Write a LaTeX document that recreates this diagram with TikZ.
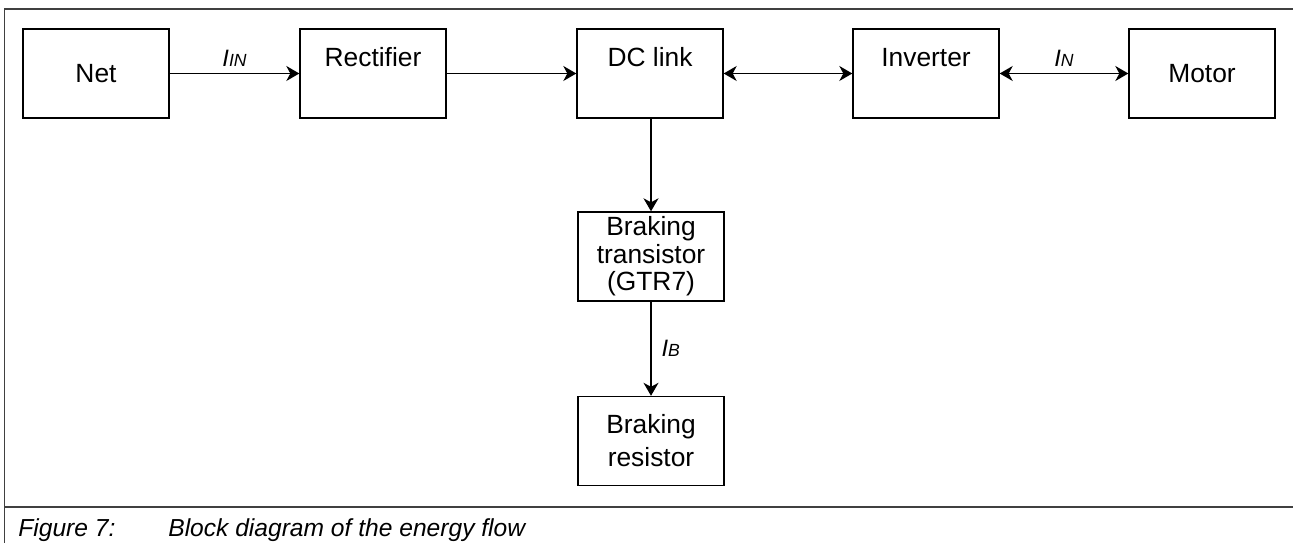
\documentclass[tikz,border=0pt]{standalone}
\usepackage{fontspec}
\setmainfont{Liberation Sans}
\usetikzlibrary{arrows.meta}

\begin{document}
\begin{tikzpicture}[x=0.02cm, y=-0.02cm,
    >={Stealth[length=0.26cm, width=0.3cm, inset=0.08cm]},
    block/.style={draw, line width=0.8pt, minimum width=2.92cm, minimum height=1.78cm,
      inner sep=0pt, align=center, font=\fontsize{15}{17}\selectfont},
    upper/.style={text height=0.39cm, text depth=0.67cm},
    flow/.style={->, line width=0.8pt},
    current/.style={font=\fontsize{13.5}{15}\selectfont\itshape}]
  % Frame and caption line
  \useasboundingbox (0,0) rectangle (1293,543);
  \draw[line width=1.1pt, black!75] (4.5,543) -- (4.5,9) -- (1293,9);
  \draw[line width=1.1pt, black!75] (4.5,507) -- (1293,507);

  % Blocks of the upper row
  \node[block] (net) at (96,73.5) {Net};
  \node[block, upper] (rect) at (373,73.5) {Rectifier};
  \node[block, upper] (dclink) at (650,73.5) {DC link};
  \node[block, upper] (inv) at (926,73.5) {Inverter};
  \node[block] (motor) at (1202,73.5) {Motor};

  % Braking branch
  \node[block, font=\fontsize{15}{15.6}\selectfont] (btr) at (651,256.5) {Braking\\transistor\\(GTR7)};
  \node[block, font=\fontsize{15}{18.8}\selectfont] (bres) at (651,441) {Braking\\resistor};

  % Energy flow
  \draw[flow] (net) -- node[current, above=0cm] {I{\fontsize{10}{10}\selectfont IN}} (rect);
  \draw[flow] (rect) -- (dclink);
  \draw[flow, <->] (dclink) -- (inv);
  \draw[flow, <->] (inv) -- node[current, above=0cm] {I{\fontsize{10}{10}\selectfont N}} (motor);
  \draw[flow] (btr.north |- dclink.south) -- (btr);
  \draw[flow] (btr) -- node[current, right=0.08cm] {I{\fontsize{10}{10}\selectfont B}} (bres);

  % Caption
  \node[anchor=base west, inner sep=0pt, font=\fontsize{14}{16}\selectfont\itshape] (figno) at (18,536) {Figure 7:};
  \node[anchor=base west, inner sep=0pt, font=\fontsize{14}{16}\selectfont\itshape] (figtext) at (168,536) {Block diagram of the energy flow};
\end{tikzpicture}
\end{document}
